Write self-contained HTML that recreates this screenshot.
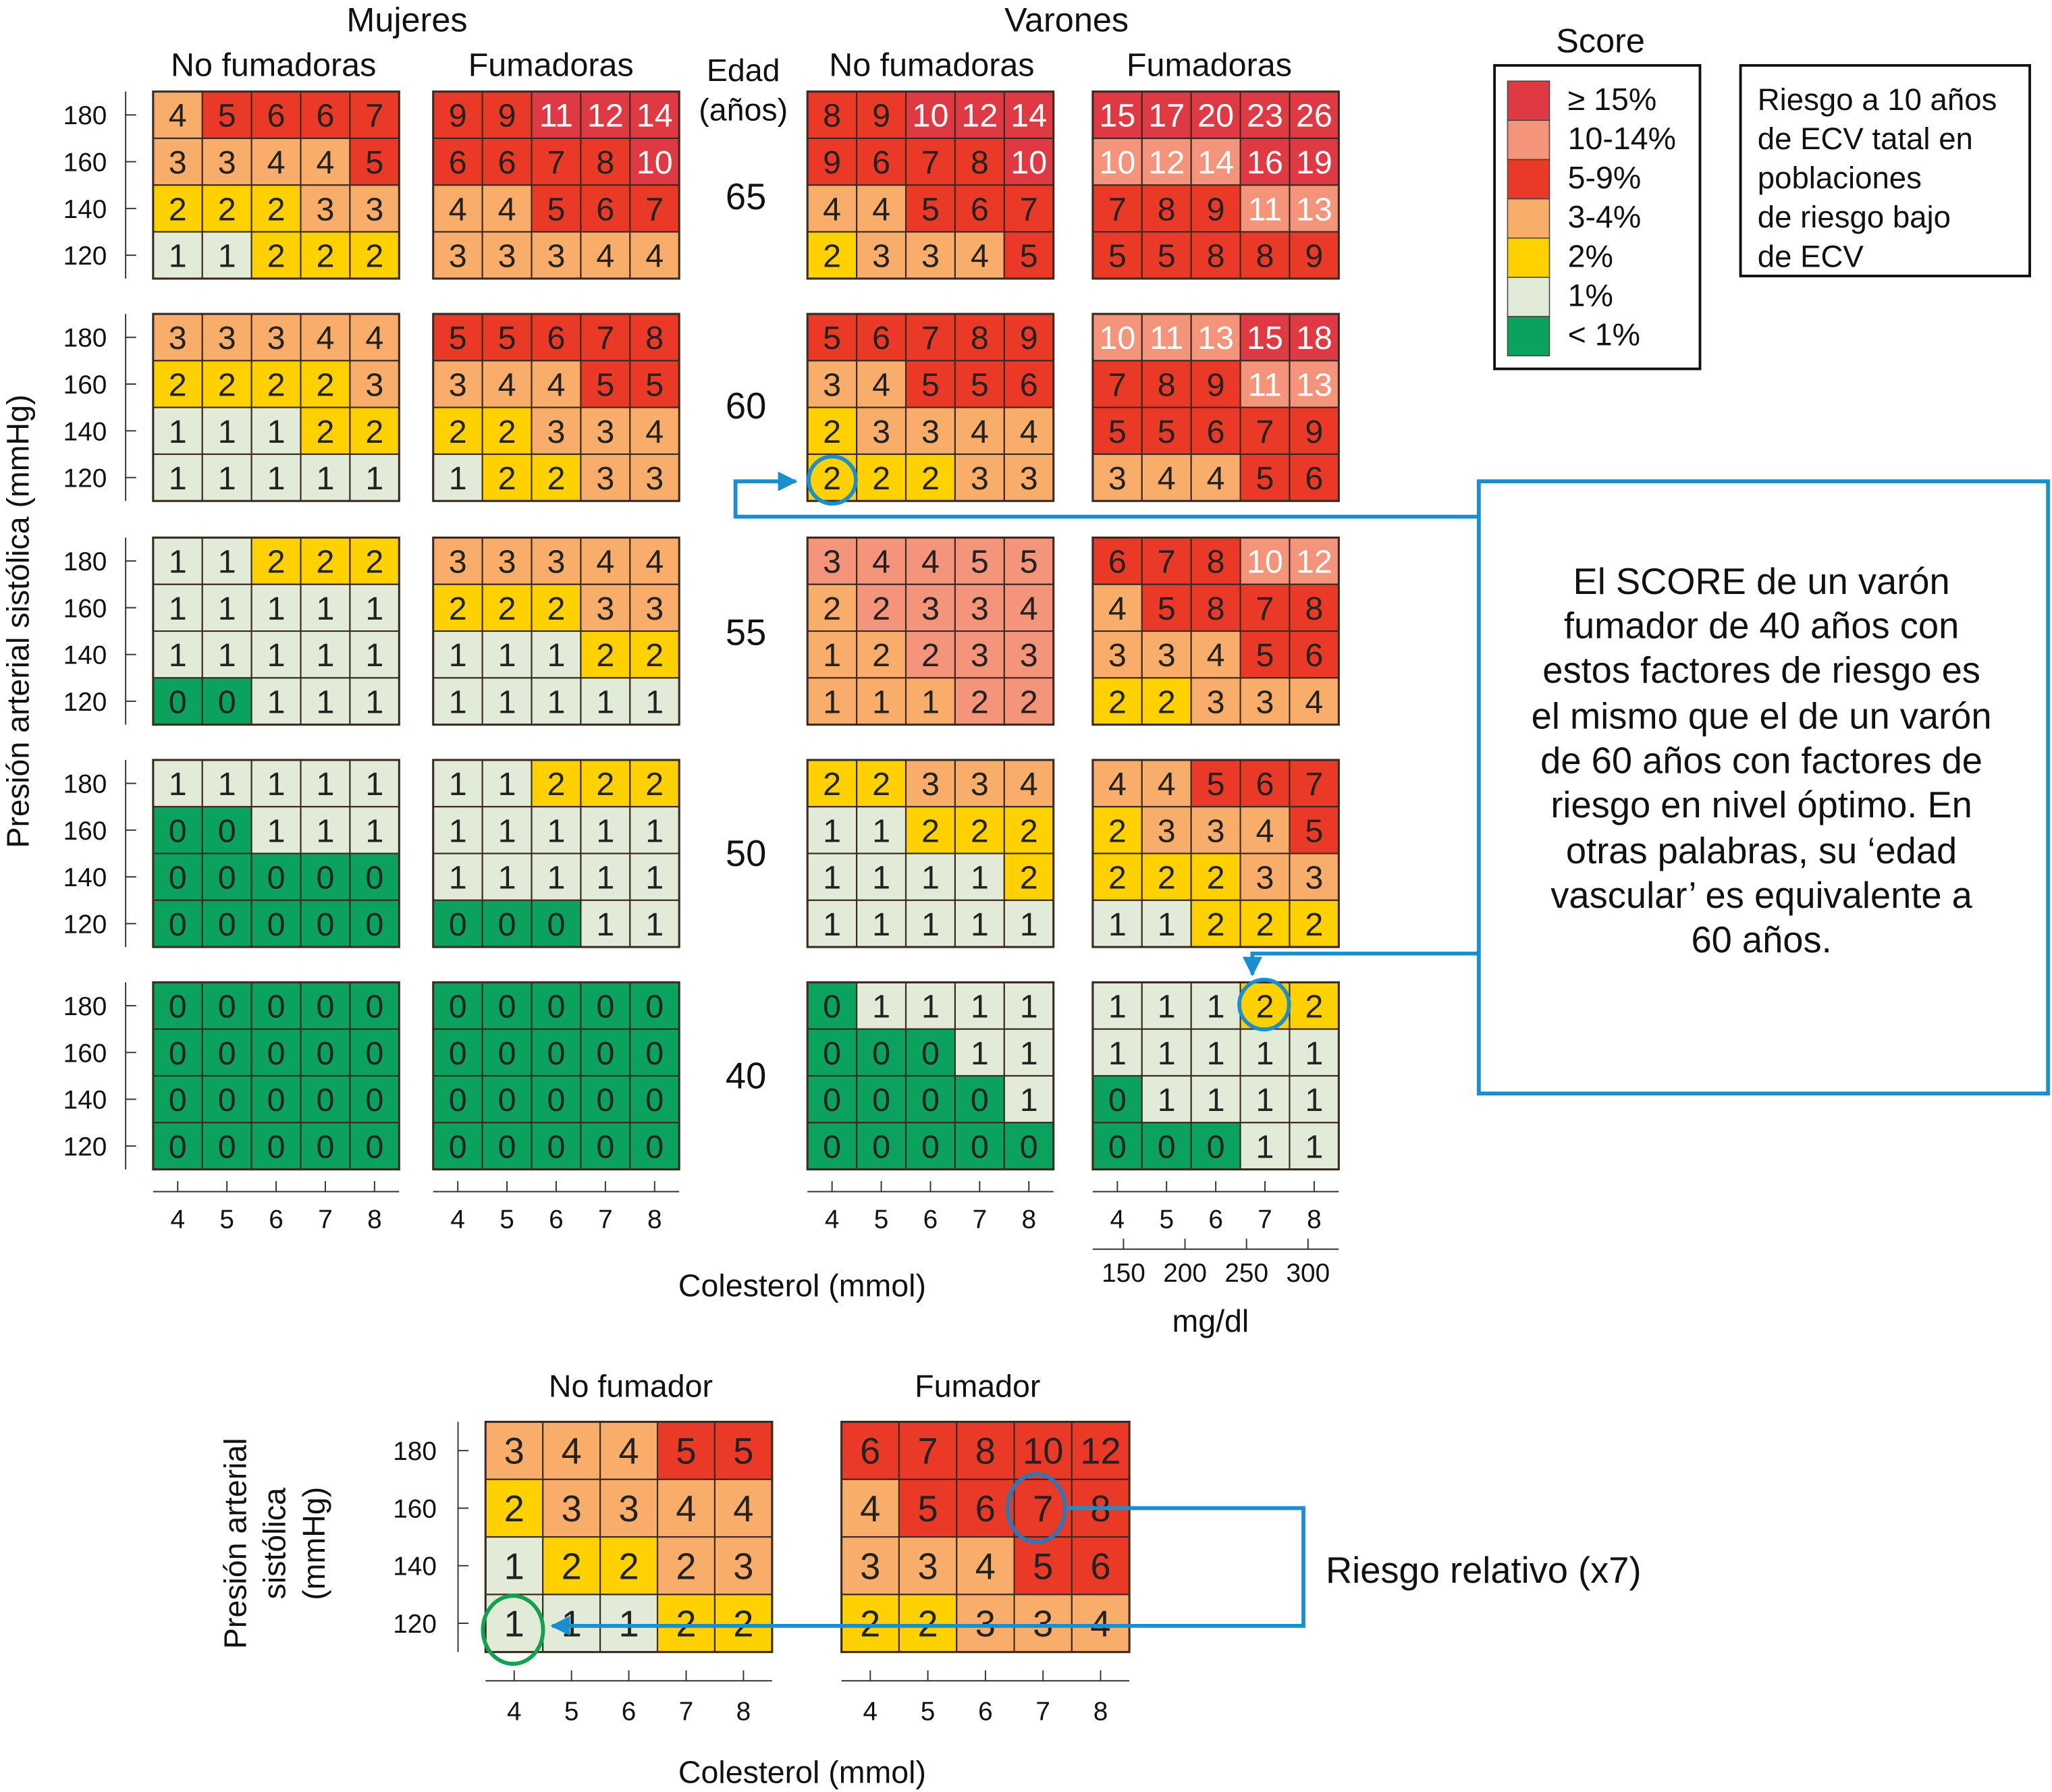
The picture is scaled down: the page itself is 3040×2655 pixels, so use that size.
<!DOCTYPE html>
<html><head><meta charset="utf-8">
<style>
html,body{margin:0;padding:0;background:#fff;}
svg{display:block;}
text{font-family:"Liberation Sans",sans-serif;fill:#111;}
.cell-t{font-family:"Liberation Sans Narrow","Liberation Sans",sans-serif;}
</style></head>
<body>
<svg id="chart" width="3040" height="2655" viewBox="0 0 1568 1370" preserveAspectRatio="none" xmlns="http://www.w3.org/2000/svg">
<defs>
<marker id="arr" viewBox="0 0 10 10" refX="9" refY="5" markerWidth="5" markerHeight="5" orient="auto"><path d="M0,0 L10,5 L0,10 z" fill="#1a8fd0"/></marker>
</defs>
<g id="static">
<text x="311" y="24" font-size="26" text-anchor="middle">Mujeres</text>
<text x="815" y="24" font-size="26" text-anchor="middle">Varones</text>
<text x="209" y="58" font-size="25" text-anchor="middle">No fumadoras</text>
<text x="421" y="58" font-size="25" text-anchor="middle">Fumadoras</text>
<text x="712" y="58" font-size="25" text-anchor="middle">No fumadoras</text>
<text x="924" y="58" font-size="25" text-anchor="middle">Fumadoras</text>
<text x="568" y="62" font-size="24" text-anchor="middle">Edad</text>
<text x="568" y="92" font-size="24" text-anchor="middle">(años)</text>
<text transform="translate(22,475) rotate(-90)" font-size="24" text-anchor="middle">Presión arterial sistólica (mmHg)</text>
<text x="613" y="991" font-size="24" text-anchor="middle">Colesterol (mmol)</text>
<text x="925" y="1018" font-size="24" text-anchor="middle">mg/dl</text>

<text x="1223" y="40" font-size="26" text-anchor="middle">Score</text>
<rect x="1142" y="50" width="157" height="232" fill="none" stroke="#111" stroke-width="2"/>
<rect x="1330" y="50" width="221" height="161" fill="none" stroke="#111" stroke-width="2"/>
<g font-size="23.5">
<text x="1343" y="84">Riesgo a 10 años</text>
<text x="1343" y="114">de ECV tatal en</text>
<text x="1343" y="144">poblaciones</text>
<text x="1343" y="174">de riesgo bajo</text>
<text x="1343" y="204">de ECV</text>
</g>
<rect x="1130" y="368" width="435" height="468" fill="none" stroke="#1a8fd0" stroke-width="3"/>
<g font-size="28" text-anchor="middle">
<text x="1346" y="454">El SCORE de un varón</text>
<text x="1346" y="488">fumador de 40 años con</text>
<text x="1346" y="522">estos factores de riesgo es</text>
<text x="1346" y="557">el mismo que el de un varón</text>
<text x="1346" y="591">de 60 años con factores de</text>
<text x="1346" y="625">riesgo en nivel óptimo. En</text>
<text x="1346" y="660">otras palabras, su ‘edad</text>
<text x="1346" y="694">vascular’ es equivalente a</text>
<text x="1346" y="728">60 años.</text>
</g>
<polyline points="1130,395 562,395 562,368 608,368" fill="none" stroke="#1a8fd0" stroke-width="3" marker-end="url(#arr)"/>
<polyline points="1130,729 957,729 957,745" fill="none" stroke="#1a8fd0" stroke-width="3" marker-end="url(#arr)"/>

<text x="482" y="1068" font-size="24" text-anchor="middle">No fumador</text>
<text x="747" y="1068" font-size="24" text-anchor="middle">Fumador</text>
<g font-size="24" text-anchor="middle">
<text transform="translate(188,1180) rotate(-90)">Presión arterial</text>
<text transform="translate(218,1180) rotate(-90)">sistólica</text>
<text transform="translate(248,1180) rotate(-90)">(mmHg)</text>
</g>
<text x="613" y="1363" font-size="24" text-anchor="middle">Colesterol (mmol)</text>
<text x="1013" y="1210" font-size="28">Riesgo relativo (x7)</text>
</g>
<g id="grids"></g>
<g id="overlay"></g>
</svg>
<script>
// ---- data ----
const categories = ["A","B","C","D","E","F","G"]; // ≥15, 10-14, 5-9, 3-4, 2, 1, <1
const legendLabels = ["≥ 15%","10-14%","5-9%","3-4%","2%","1%","< 1%"];
const catColors = {A:"#df3a44",B:"#f4957b",C:"#ea3a27",D:"#f8ae6a",E:"#ffd100",F:"#e2ebd7",G:"#0aa25d"};
const sbpTicks = [180,160,140,120];
const cholTicks = [4,5,6,7,8];
const mgdlTicks = [150,200,250,300];
const ages = [65,60,55,50,40];

const womenNon = {
 65:[[4,5,6,6,7],[3,3,4,4,5],[2,2,2,3,3],[1,1,2,2,2]],
 60:[[3,3,3,4,4],[2,2,2,2,3],[1,1,1,2,2],[1,1,1,1,1]],
 55:[[1,1,2,2,2],[1,1,1,1,1],[1,1,1,1,1],[0,0,1,1,1]],
 50:[[1,1,1,1,1],[0,0,1,1,1],[0,0,0,0,0],[0,0,0,0,0]],
 40:[[0,0,0,0,0],[0,0,0,0,0],[0,0,0,0,0],[0,0,0,0,0]]};
const womenSmk = {
 65:[[9,9,11,12,14],[6,6,7,8,10],[4,4,5,6,7],[3,3,3,4,4]],
 60:[[5,5,6,7,8],[3,4,4,5,5],[2,2,3,3,4],[1,2,2,3,3]],
 55:[[3,3,3,4,4],[2,2,2,3,3],[1,1,1,2,2],[1,1,1,1,1]],
 50:[[1,1,2,2,2],[1,1,1,1,1],[1,1,1,1,1],[0,0,0,1,1]],
 40:[[0,0,0,0,0],[0,0,0,0,0],[0,0,0,0,0],[0,0,0,0,0]]};
const menNon = {
 65:[[8,9,10,12,14],[9,6,7,8,10],[4,4,5,6,7],[2,3,3,4,5]],
 60:[[5,6,7,8,9],[3,4,5,5,6],[2,3,3,4,4],[2,2,2,3,3]],
 55:[[3,4,4,5,5],[2,2,3,3,4],[1,2,2,3,3],[1,1,1,2,2]],
 50:[[2,2,3,3,4],[1,1,2,2,2],[1,1,1,1,2],[1,1,1,1,1]],
 40:[[0,1,1,1,1],[0,0,0,1,1],[0,0,0,0,1],[0,0,0,0,0]]};
const menSmk = {
 65:[[15,17,20,23,26],[10,12,14,16,19],[7,8,9,11,13],[5,5,8,8,9]],
 60:[[10,11,13,15,18],[7,8,9,11,13],[5,5,6,7,9],[3,4,4,5,6]],
 55:[[6,7,8,10,12],[4,5,8,7,8],[3,3,4,5,6],[2,2,3,3,4]],
 50:[[4,4,5,6,7],[2,3,3,4,5],[2,2,2,3,3],[1,1,2,2,2]],
 40:[[1,1,1,2,2],[1,1,1,1,1],[0,1,1,1,1],[0,0,0,1,1]]};
const bottomNon = [[3,4,4,5,5],[2,3,3,4,4],[1,2,2,2,3],[1,1,1,2,2]];
const bottomSmk = [[6,7,8,10,12],[4,5,6,7,8],[3,3,4,5,6],[2,2,3,3,4]];
// explicit colour categories where the figure deviates from the value rule
const catOverrides = {
 "womenSmk-65":["CCAAA","CCCCA","DDCCC","DDDDD"],
 "menNon-65":["CCAAA","CCCCA","DDCCC","EDDDC"],
 "menNon-55":["BBBBB","DBBBB","DDBBB","DDDBB"],
 "bottomNon":["DDDCC","EDDDD","FEEDD","FFFEE"],
 "bottomSmk":["CCCCC","DCCCC","DDDCC","EEDDD"]};

function catOf(v){ if(v>=15)return"A"; if(v>=10)return"B"; if(v>=5)return"C"; if(v>=3)return"D"; if(v==2)return"E"; if(v==1)return"F"; return"G"; }

const NS="http://www.w3.org/2000/svg";
const gridsG=document.getElementById("grids");
const overlay=document.getElementById("overlay");
function mk(tag,attrs,parent){const e=document.createElementNS(NS,tag);for(const k in attrs)e.setAttribute(k,attrs[k]);(parent||gridsG).appendChild(e);return e;}

function colX(x0,cw,i){return x0+i*cw;}
function rowY(y0,rh,j){return y0+j*rh;}

function drawGrid(name,vals,overKey,x0,y0,w,h,fs){
  const g=mk("g",{});
  
  
  const cw=w/5, rh=h/4, ov=catOverrides[overKey];
  vals.forEach((row,j)=>row.forEach((v,i)=>{
    const c=ov?ov[j][i]:catOf(v);
    const r=mk("rect",{x:colX(x0,cw,i),y:rowY(y0,rh,j),width:cw,height:rh,fill:catColors[c],stroke:"#3b2a22","stroke-width":1.1},g);
    
    
    const t=mk("text",{x:colX(x0,cw,i)+cw/2,y:rowY(y0,rh,j)+rh/2+fs*0.36,"font-size":fs,"text-anchor":"middle",class:"cell-t"},g);
    
    
    t.style.fill=(v>=10&&(c=="A"||c=="B"))?"#fff":"#222";
    t.textContent=v;
  }));
  mk("rect",{x:x0,y:y0,width:w,height:h,fill:"none",stroke:"#3b2a22","stroke-width":1.6},g);
}
function yAxis(name,ax,y0,h,fs,lx){
  const g=mk("g",{stroke:"#333"});
  
  
  mk("line",{x1:ax,y1:y0,x2:ax,y2:y0+h,"stroke-width":1},g);
  const rh=h/4;
  sbpTicks.forEach((s,j)=>{
    const y=rowY(y0,rh,j)+rh/2;
    mk("line",{x1:ax,y1:y,x2:ax+8,y2:y,"stroke-width":1},g);
    const t=mk("text",{x:lx,y:y+fs*0.36,"font-size":fs,"text-anchor":"middle",stroke:"none"},g);
    
    
    t.textContent=s;
  });
}
function xAxis(name,x0,w,ay,ly,fs,labels){
  const g=mk("g",{stroke:"#333"});
  
  
  const cw=w/labels.length;
  mk("line",{x1:x0,y1:ay,x2:x0+w,y2:ay,"stroke-width":1},g);
  labels.forEach((l,i)=>{
    const x=colX(x0,cw,i)+cw/2;
    mk("line",{x1:x,y1:ay,x2:x,y2:ay-8,"stroke-width":1},g);
    const t=mk("text",{x:x,y:ly,"font-size":fs,"text-anchor":"middle",stroke:"none"},g);
    
    
    t.textContent=l;
  });
}

const blockY=[70,240,411,581,751], GW=188, GH=143;
const ageLabelY=[160,320,493,662,832];
const groupX=[117,331,617,835];
const groups=[["women-nonsmoker",womenNon,"womenNon"],["women-smoker",womenSmk,"womenSmk"],["men-nonsmoker",menNon,"menNon"],["men-smoker",menSmk,"menSmk"]];
ages.forEach((a,k)=>{
  groups.forEach((gr,gi)=>drawGrid("grid-"+gr[0]+"-"+a,gr[1][a],gr[2]+"-"+a,groupX[gi],blockY[k],GW,GH,25));
  yAxis("y-axis-women-"+a,96,blockY[k],GH,20,65);
  const t=mk("text",{x:570,y:ageLabelY[k],"font-size":28,"text-anchor":"middle"});
  
  
  t.textContent=a;
});
groupX.forEach((x,gi)=>xAxis("x-axis-"+groups[gi][0],x,GW,911,939,20,cholTicks));
xAxis("mgdl-axis",835,GW,955,980,20,mgdlTicks);

categories.forEach((c,i)=>{
  const r=mk("rect",{x:1152,y:62+i*30,width:32,height:30,fill:catColors[c],stroke:"#444","stroke-width":0.8});
  
  
  const t=mk("text",{x:1198,y:84+i*30,"font-size":24});
  
  
  t.textContent=legendLabels[i];
});

drawGrid("bottom-grid-nonsmoker",bottomNon,"bottomNon",371,1087,219,176,28);
drawGrid("bottom-grid-smoker",bottomSmk,"bottomSmk",643,1087,220,176,28);
yAxis("bottom-y-axis",350,1087,176,20,317);
xAxis("bottom-x-axis-nonsmoker",371,219,1285,1315,20,cholTicks);
xAxis("bottom-x-axis-smoker",643,220,1285,1315,20,cholTicks);

function ov(tag,attrs,name){const e=mk(tag,attrs,overlay);return e;}
ov("circle",{cx:636,cy:367,r:18,fill:"none",stroke:"#1a8fd0","stroke-width":3},"highlight-age60");
ov("circle",{cx:966,cy:768,r:19,fill:"none",stroke:"#1a8fd0","stroke-width":3},"highlight-age40");
ov("ellipse",{cx:792,cy:1153,rx:22,ry:26,fill:"none",stroke:"#2a78b8","stroke-width":3},"highlight-smoker-7");
ov("polyline",{points:"815,1153 996,1153 996,1243 422,1243",fill:"none",stroke:"#1a8fd0","stroke-width":3,"marker-end":"url(#arr)"},"relative-risk-connector");
ov("ellipse",{cx:392,cy:1246,rx:23,ry:26,fill:"none",stroke:"#12a14e","stroke-width":3},"highlight-nonsmoker-1");
</script>
</body></html>
